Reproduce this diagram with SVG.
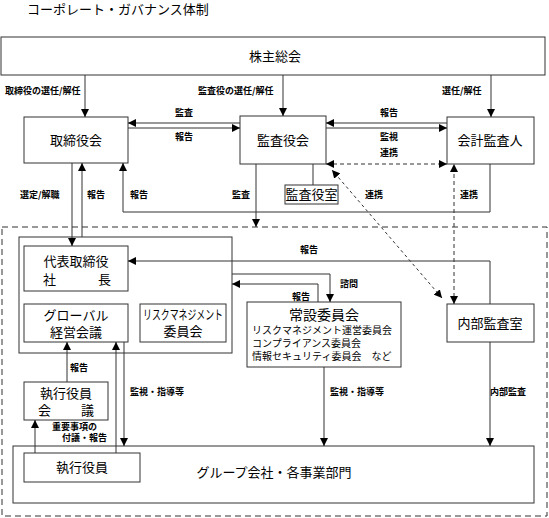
<svg xmlns="http://www.w3.org/2000/svg" width="549" height="518" viewBox="0 0 549 518">
<style>
text{font-family:"Noto Sans CJK JP","Noto Sans CJK SC",sans-serif;fill:#000}
.t{font-size:13px;text-anchor:middle}
.s{font-size:9px;font-weight:bold}
.m{font-size:10px}
.box{fill:#fff;stroke:#333;stroke-width:1}
.c{fill:none;stroke:#333;stroke-width:1}
.d{stroke-dasharray:4,3}
.od{stroke-dasharray:6,4}
.dt{stroke-dasharray:3,3}
</style>
<defs>
<marker id="a" markerUnits="userSpaceOnUse" markerWidth="8" markerHeight="8" refX="8" refY="4" orient="auto-start-reverse">
<path d="M0,0 L8,4 L0,8 z" fill="#000"/>
</marker>
</defs>
<rect width="549" height="518" fill="#fff"/>
<text x="27" y="14" style="font-size:13px">コーポレート・ガバナンス体制</text>

<g id="outer-dashed"><rect x="2" y="227" width="545" height="289" class="c od"/></g>
<g id="kabunushi"><rect x="1" y="37" width="544" height="38" class="box"/><text x="275" y="61" class="t">株主総会</text></g>
<g id="torishimariyakukai"><rect x="24" y="117" width="104" height="46" class="box"/><text x="76" y="145" class="t">取締役会</text></g>
<g id="kansayakukai"><rect x="240" y="116" width="86" height="48" class="box"/><text x="283" y="145" class="t">監査役会</text></g>
<g id="kaikei"><rect x="447" y="117" width="87" height="47" class="box"/><text x="490" y="145" class="t">会計監査人</text></g>
<g id="kansayakushitsu"><rect x="285" y="185" width="53" height="19" class="box"/><text x="311.5" y="199" class="t">監査役室</text></g>
<g id="exec-group"><rect x="19" y="237" width="213" height="116" class="box"/></g>
<g id="daihyo"><rect x="24" y="246" width="104" height="45" class="box"/><text x="76" y="266" class="t">代表取締役</text><text x="43" y="284" style="font-size:13px">社</text><text x="98" y="284" style="font-size:13px">長</text></g>
<g id="global"><rect x="24" y="304" width="104" height="38" class="box"/><text x="76" y="320" class="t">グローバル</text><text x="76" y="337" class="t">経営会議</text></g>
<g id="risk"><rect x="140" y="304" width="86" height="38" class="box"/><text x="183" y="319" class="t" textLength="80" lengthAdjust="spacingAndGlyphs">リスクマネジメント</text><text x="183" y="336" class="t">委員会</text></g>
<g id="josetsu"><rect x="247" y="302" width="154" height="65" class="box"/><text x="324" y="320" class="t" style="font-size:14px">常設委員会</text><text x="252" y="334" class="m">リスクマネジメント運営委員会</text><text x="252" y="347" class="m">コンプライアンス委員会</text><text x="252" y="360" class="m">情報セキュリティ委員会　など</text></g>
<g id="naibu"><rect x="447" y="304" width="87" height="38" class="box"/><text x="490" y="328" class="t">内部監査室</text></g>
<g id="shikko-kaigi"><rect x="24" y="382" width="84" height="38" class="box"/><text x="66" y="398" class="t">執行役員</text><text x="38" y="415" style="font-size:13px">会</text><text x="81" y="415" style="font-size:13px">議</text></g>
<g id="group"><rect x="13" y="446" width="521" height="57" class="box"/><text x="274" y="477" class="t">グループ会社・各事業部門</text></g>
<g id="shikko"><rect x="24" y="453" width="116" height="29" class="box"/><text x="82" y="472" class="t">執行役員</text></g>

<g id="connectors">
<path d="M85,75 V117" class="c" marker-end="url(#a)"/>
<path d="M283,75 V116" class="c" marker-end="url(#a)"/>
<path d="M491,75 V117" class="c" marker-end="url(#a)"/>
<path d="M240,123 H128" class="c" marker-end="url(#a)"/>
<path d="M128,128 H240" class="c" marker-end="url(#a)"/>
<path d="M447,123 H326" class="c" marker-end="url(#a)"/>
<path d="M326,128 H447" class="c" marker-end="url(#a)"/>
<path d="M326,164 H447" class="c d" marker-start="url(#a)" marker-end="url(#a)"/>
<path d="M72,163 V246" class="c" marker-end="url(#a)"/>
<path d="M82,237 V163" class="c" marker-end="url(#a)"/>
<path d="M490,164 V212 H123 V163" class="c" marker-end="url(#a)"/>
<path d="M256,164 V227" class="c" marker-end="url(#a)"/>
<path d="M313,164 V185" class="c"/>
<path d="M454,304 V164" class="c d" marker-start="url(#a)" marker-end="url(#a)"/>
<path d="M442,298 L332,170" class="c dt" marker-start="url(#a)" marker-end="url(#a)"/>
<path d="M490,304 V261 H128" class="c" marker-end="url(#a)"/>
<path d="M232,274 H330 V302" class="c" marker-end="url(#a)"/>
<path d="M318,302 V284 H232" class="c" marker-end="url(#a)"/>
<path d="M67,382 V342" class="c" marker-end="url(#a)"/>
<path d="M116,453 V342" class="c" marker-end="url(#a)"/>
<path d="M124,342 V446" class="c" marker-end="url(#a)"/>
<path d="M35,453 V420" class="c" marker-end="url(#a)"/>
<path d="M324,367 V446" class="c" marker-end="url(#a)"/>
<path d="M490,342 V446" class="c" marker-end="url(#a)"/>
</g>

<g id="labels">
<text x="5" y="94" class="s">取締役の選任/解任</text>
<text x="198" y="94" class="s">監査役の選任/解任</text>
<text x="442" y="94" class="s">選任/解任</text>
<text x="175" y="116" class="s">監査</text>
<text x="175" y="140" class="s">報告</text>
<text x="380" y="116" class="s">報告</text>
<text x="380" y="140" class="s">監視</text>
<text x="380" y="156" class="s">連携</text>
<text x="20" y="198" class="s">選定/解職</text>
<text x="87" y="198" class="s">報告</text>
<text x="130" y="198" class="s">報告</text>
<text x="232" y="198" class="s">監査</text>
<text x="365" y="198" class="s">連携</text>
<text x="460" y="198" class="s">連携</text>
<text x="300" y="253" class="s">報告</text>
<text x="340" y="287" class="s">諮問</text>
<text x="292" y="300" class="s">報告</text>
<text x="70" y="371" class="s">報告</text>
<text x="130" y="395" class="s">監視・指導等</text>
<text x="330" y="395" class="s">監視・指導等</text>
<text x="490" y="395" class="s">内部監査</text>
<text x="52" y="430" class="s">重要事項の</text>
<text x="62" y="441" class="s">付議・報告</text>
</g>
</svg>
